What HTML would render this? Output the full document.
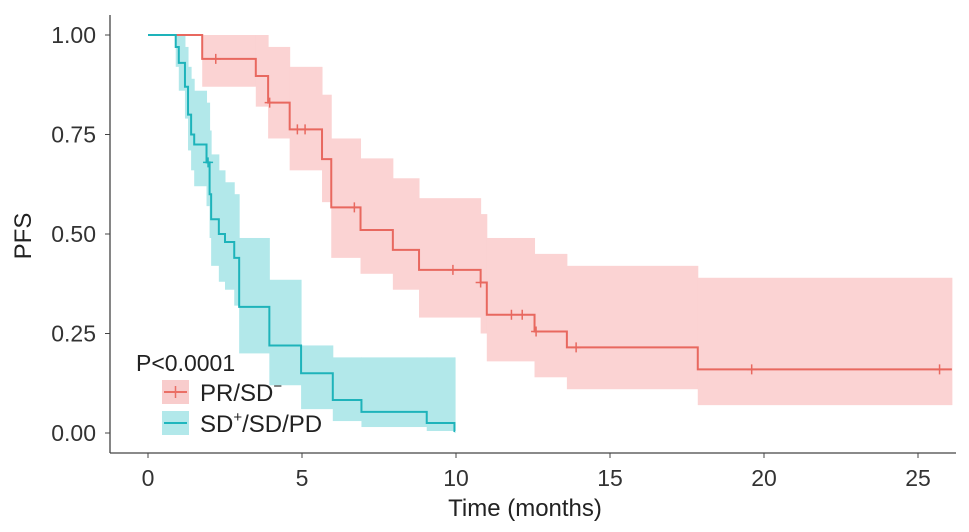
<!DOCTYPE html>
<html><head><meta charset="utf-8"><style>
body{margin:0;background:#fff;}
svg{display:block;font-family:"Liberation Sans",Arial,sans-serif;}
</style></head><body>
<svg id="chart" width="969" height="532" viewBox="0 0 969 532">
<g id="bands"></g><g id="lines"></g><g id="censors"></g>
<line x1="110" y1="15" x2="110" y2="453" stroke="#444" stroke-width="1.3"/>
<line x1="110" y1="453" x2="956" y2="453" stroke="#444" stroke-width="1.3"/>
<g id="ticks" font-size="23" fill="#333"></g>
<text x="525" y="516" font-size="24" text-anchor="middle" fill="#222">Time (months)</text>
<text x="0" y="0" transform="translate(31,236) rotate(-90)" font-size="24" text-anchor="middle" fill="#222">PFS</text>
<text x="136" y="371" font-size="23" fill="#222">P&lt;0.0001</text>
<g>
<rect x="162" y="380" width="27" height="24" fill="#f8cccc"/>
<line x1="164" y1="392" x2="187" y2="392" stroke="#ea6f66" stroke-width="2"/>
<line x1="175.5" y1="386" x2="175.5" y2="398" stroke="#ea6f66" stroke-width="1.5"/>
<text x="200" y="401" font-size="24" fill="#222">PR/SD<tspan font-size="15" dy="-10">−</tspan></text>
</g>
<g>
<rect x="162" y="411" width="27" height="24" fill="#b2e8ea"/>
<line x1="164" y1="423" x2="187" y2="423" stroke="#1fb6bd" stroke-width="2"/>
<text x="200" y="432" font-size="24" fill="#222">SD<tspan font-size="15" dy="-10">+</tspan><tspan dy="10">/SD/PD</tspan></text>
</g>
</svg>
<script>
// Red group PR/SD-: step times, survival, lower/upper CI
const redT  =[0,1.76,3.5,3.9,4.6,5.65,5.95,6.9,7.95,8.8,10.8,11.0,12.55,13.6,17.85];
const redS  =[1,0.94,0.897,0.83,0.763,0.688,0.567,0.51,0.46,0.41,0.378,0.297,0.255,0.215,0.16];
const redLo =[1,0.87,0.82,0.74,0.66,0.58,0.44,0.40,0.36,0.29,0.25,0.18,0.14,0.11,0.07];
const redHi =[1,1,1,0.97,0.92,0.85,0.74,0.69,0.64,0.59,0.55,0.49,0.45,0.42,0.39];
const redEnd=26.1;
const redCens=[2.2,3.95,4.85,5.1,6.7,9.9,10.8,11.8,12.15,12.6,13.9,19.6,25.7];
// Blue group SD+/SD/PD
const bluT  =[0,0.9,1.0,1.2,1.3,1.4,1.5,1.9,2.0,2.05,2.3,2.5,2.8,2.96,3.94,4.97,6.0,6.93,9.05,9.95];
const bluS  =[1,0.97,0.93,0.87,0.80,0.75,0.725,0.68,0.60,0.537,0.50,0.48,0.44,0.317,0.22,0.15,0.083,0.053,0.025,0.005];
const bluLo =[1,0.92,0.86,0.79,0.71,0.66,0.62,0.57,0.49,0.42,0.38,0.36,0.32,0.20,0.12,0.06,0.03,0.015,0.005,0];
const bluHi =[1,1,1,0.97,0.92,0.89,0.86,0.83,0.76,0.70,0.66,0.63,0.60,0.49,0.385,0.22,0.19,0.19,0.19,0.19];
const bluEnd=9.97;
const bluCens=[1.95];
const xTicks=[0,5,10,15,20,25];
const yTicks=[0,0.25,0.5,0.75,1];
const yLabels=["0.00","0.25","0.50","0.75","1.00"];

const X=t=>148+t*30.8, Y=s=>433-s*398;
const NS="http://www.w3.org/2000/svg";
function mk(tag,attrs,parent){const e=document.createElementNS(NS,tag);for(const k in attrs)e.setAttribute(k,attrs[k]);document.getElementById(parent).appendChild(e);return e;}
function draw(T,S,Lo,Hi,end,cens,fill,stroke,name){
  for(let i=0;i<T.length;i++){
    const t1=i+1<T.length?T[i+1]:end;
    const r=mk('rect',{x:X(T[i]),y:Y(Hi[i]),width:X(t1)-X(T[i])+0.5,height:Y(Lo[i])-Y(Hi[i]),fill:fill},'bands');
    
    
  }
  let d='M'+X(T[0])+','+Y(S[0]);
  for(let i=1;i<T.length;i++){d+=' H'+X(T[i])+' V'+Y(S[i]);}
  d+=' H'+X(end);
  const p=mk('path',{d:d,fill:'none',stroke:stroke,'stroke-width':2},'lines');
  
  
  cens.forEach(c=>{let i=0;while(i+1<T.length&&T[i+1]<=c)i++;const x=X(c),y=Y(S[i]);
    const g=mk('path',{d:`M${x-5},${y} H${x+5} M${x},${y-5} V${y+5}`,stroke:stroke,'stroke-width':1.5},'censors');
    
    
  });
}
draw(redT,redS,redLo,redHi,redEnd,redCens,'#fbd3d3','#e8685f','pr-sd');
draw(bluT,bluS,bluLo,bluHi,bluEnd,bluCens,'#b2e8ea','#1eb3ba','sd-pd');
xTicks.forEach(v=>{
  const l=mk('line',{x1:X(v),y1:453,x2:X(v),y2:458,stroke:'#444'},'ticks');
  
  
  const t=mk('text',{x:X(v),y:486,'text-anchor':'middle'},'ticks');t.textContent=v;
  
  
});
yTicks.forEach((v,i)=>{
  const l=mk('line',{x1:105,y1:Y(v),x2:110,y2:Y(v),stroke:'#444'},'ticks');
  
  
  const t=mk('text',{x:96,y:Y(v)+8,'text-anchor':'end'},'ticks');t.textContent=yLabels[i];
  
  
});
</script>
</body></html>
